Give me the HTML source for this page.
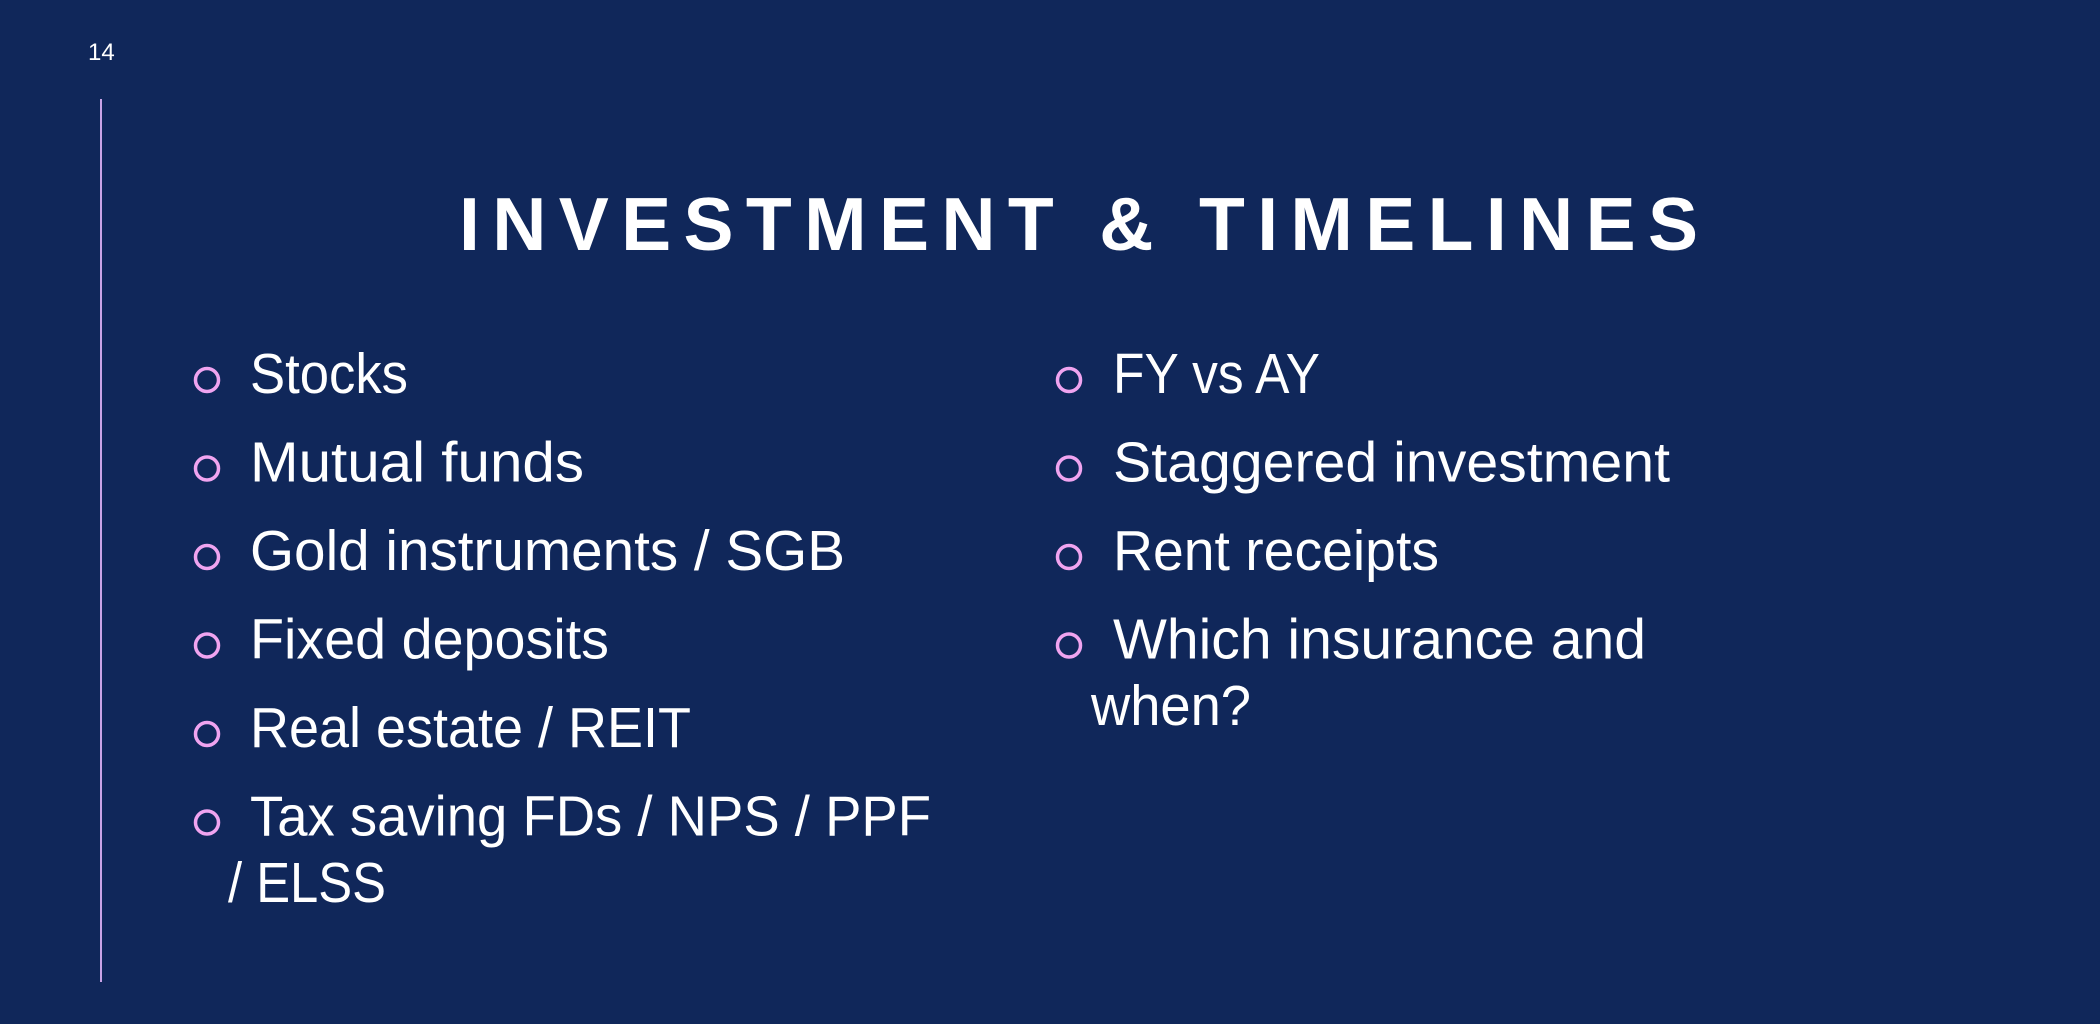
<!DOCTYPE html>
<html><head><meta charset="utf-8"><style>
html,body{margin:0;padding:0;background:#10275a;}
svg{display:block}
text{font-family:"Liberation Sans",sans-serif;fill:#fff}
</style></head><body>
<svg width="2100" height="1024" viewBox="0 0 2100 1024">
<rect width="2100" height="1024" fill="#10275a"/>
<text x="88" y="60" font-size="24">14</text>
<line x1="101" y1="99" x2="101" y2="982" stroke="#c9a3e6" stroke-width="2"/>
<text x="459" y="250" font-size="75" font-weight="bold" textLength="1239" lengthAdjust="spacing">INVESTMENT &amp; TIMELINES</text>
<g id="bullets"></g>
</svg>
<script>
const items=[
 [207,250,393,"Stocks",158,true],
 [207,250,481.5,"Mutual funds",334,true],
 [207,250,570,"Gold instruments / SGB",595,true],
 [207,250,658.5,"Fixed deposits",359,true],
 [207,250,747,"Real estate / REIT",441,true],
 [207,250,835.5,"Tax saving FDs / NPS / PPF",681,true],
 [0,228,902,"/ ELSS",158,false],
 [1069,1113,393,"FY vs AY",207,true],
 [1069,1113,481.5,"Staggered investment",557,true],
 [1069,1113,570,"Rent receipts",326,true],
 [1069,1113,658.5,"Which insurance and",533,true],
 [0,1091,725,"when?",160,false]
];
const g=document.getElementById('bullets');
const NS="http://www.w3.org/2000/svg";
items.forEach(it=>{
 if(it[5]){
  const c=document.createElementNS(NS,'circle');
  c.setAttribute('cx',it[0]);c.setAttribute('cy',it[2]-13);c.setAttribute('r',11.5);
  c.setAttribute('fill','none');c.setAttribute('stroke','#f0a4f0');c.setAttribute('stroke-width','3.5');
  
  
  g.appendChild(c);
 }
 const t=document.createElementNS(NS,'text');
 t.setAttribute('x',it[1]);t.setAttribute('y',it[2]);t.setAttribute('font-size','57');
 t.setAttribute('textLength',it[4]);t.setAttribute('lengthAdjust','spacingAndGlyphs');
 t.textContent=it[3];
 
 
 g.appendChild(t);
});
</script>
</body></html>
